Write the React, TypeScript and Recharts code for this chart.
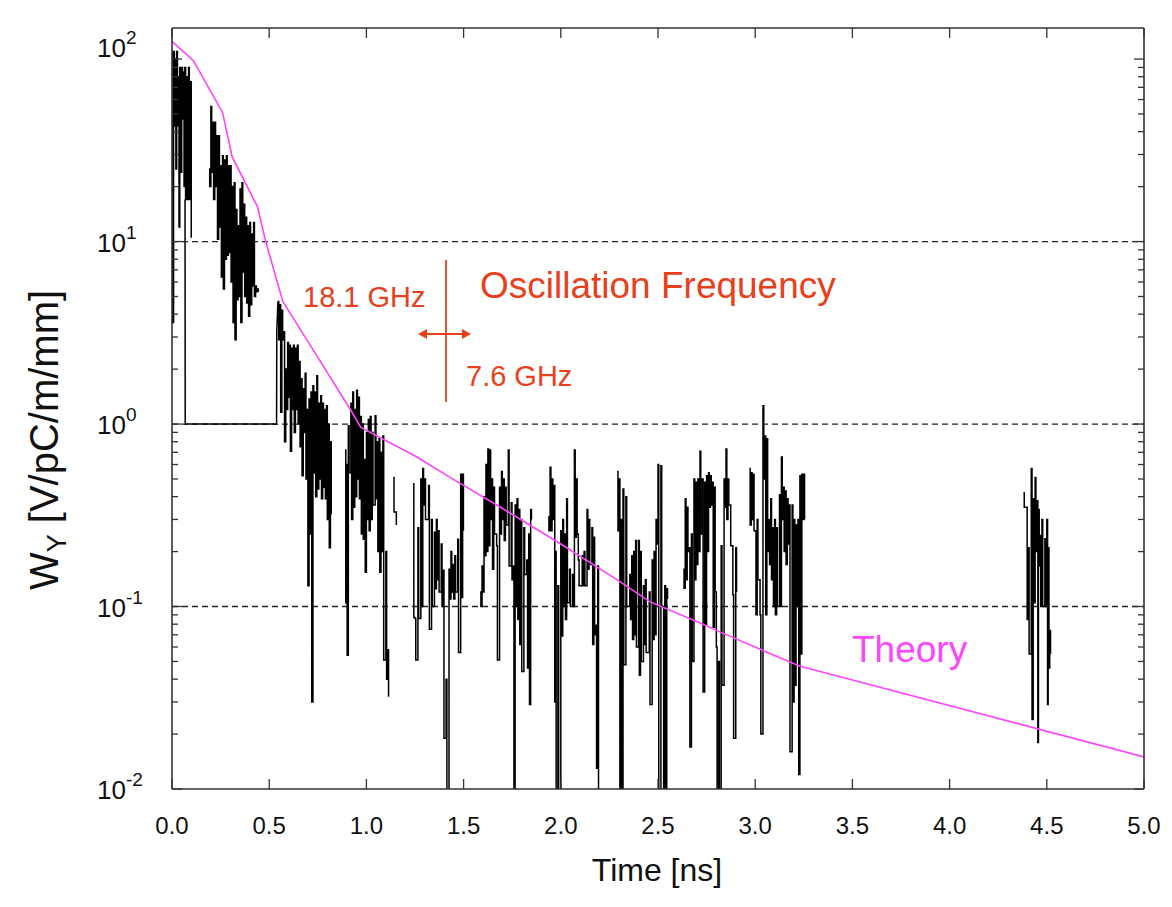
import React from 'react';
import { LineChart, Line, XAxis, YAxis, ReferenceLine, Customized } from 'recharts';

const FONT = '"Liberation Sans", Arial, Helvetica, sans-serif';
const RED = '#e8401c';
const MAGENTA = '#ff44ff';
const FRAME = '#333333';

// ---- axis ticks ----
const xTicks = [0, 0.5, 1, 1.5, 2, 2.5, 3, 3.5, 4, 4.5, 5];
const xTickLabels = ['0.0', '0.5', '1.0', '1.5', '2.0', '2.5', '3.0', '3.5', '4.0', '4.5', '5.0'];
const yMajor = [0.01, 0.1, 1, 10, 100];
const yExp = ['-2', '-1', '0', '1', '2'];
const yMinor = [
  0.02, 0.03, 0.04, 0.05, 0.06, 0.07, 0.08, 0.09,
  0.2, 0.3, 0.4, 0.5, 0.6, 0.7, 0.8, 0.9,
  2, 3, 4, 5, 6, 7, 8, 9,
  20, 30, 40, 50, 60, 70, 80, 90,
];
const yAllTicks = [...yMajor, ...yMinor].sort((a, b) => a - b);
const gridLevels = [0.1, 1, 10];

// ---- theory curve [t (ns), W] ----
const theory: [number, number][] = [
  [0, 125], [0.11, 98], [0.26, 51], [0.31, 29], [0.44, 15.5], [0.48, 10.2],
  [0.57, 4.7], [0.66, 3.3], [0.92, 1.19], [0.97, 0.96], [1.26, 0.66], [1.43, 0.51],
  [1.69, 0.35], [2.0, 0.22], [2.29, 0.14], [2.46, 0.106], [2.72, 0.081], [2.8, 0.074],
  [3.23, 0.047], [3.3, 0.045], [5.0, 0.015],
];

// ---- measured wake, columns [t, high, low] (null = no trace) ----
const seg1: [number, number | null, number | null][] = [
  [0.0, 110, 3.6], [0.008, 110, 43], [0.016, 100, 25], [0.024, 110, 43], [0.032, 80, 12],
  [0.04, 90, 24], [0.05, 90, 47], [0.058, 85, 20], [0.066, 90, 17], [0.075, 80, 17],
  [0.085, 90, 17], [0.095, 75, 10.5],
];

const floorTrace: [number, number][] = [
  [0.067, 17], [0.068, 1.0], [0.538, 1.0], [0.539, 3.2], [0.545, 4.7],
];

const seg2: [number, number | null, number | null][] = [
  [0.19, 25, 20], [0.2, 55, 24], [0.21, 45, 17], [0.22, 45, 20], [0.23, 38, 10.3],
  [0.24, 38, 12], [0.25, 26, 6.4], [0.26, 29.5, 5.5], [0.27, 28, 8], [0.28, 29.5, 8.4],
  [0.29, 26, 8.7], [0.3, 26, 6], [0.31, 20, 3.6], [0.32, 21, 2.9], [0.33, 15, 4.8],
  [0.34, 12.2, 5], [0.35, 19.4, 3.6], [0.36, 21, 6.8], [0.37, 16, 5], [0.38, 13.6, 4.6],
  [0.39, 12.2, 3.9], [0.4, 12.7, 4.5], [0.41, 11, 5.7], [0.42, 12.7, 5], [0.43, 5.7, 5.3],
  [0.44, 5.5, 5.3],
];

const seg3: [number, number | null, number | null][] = [
  [0.545, 4.7, 2.9], [0.555, 4.5, 1.16], [0.565, 4.2, 2.9], [0.575, 3.2, 0.8], [0.585, 2.0, 1.2],
  [0.595, 2.8, 1.4], [0.605, 2.7, 0.71], [0.615, 2.6, 1.2], [0.625, 2.7, 0.9], [0.635, 2.6, 1.2],
  [0.645, 2.7, 1.0], [0.655, 2.2, 0.75], [0.665, 1.77, 0.52], [0.675, 1.56, 0.9], [0.685, 1.9, 0.5],
  [0.695, 1.2, 0.13], [0.705, 1.37, 0.25], [0.715, 1.5, 0.03], [0.725, 1.62, 0.54], [0.735, 1.5, 0.4],
  [0.745, 1.84, 0.44], [0.755, 1.3, 0.5], [0.765, 1.43, 0.39], [0.775, 1.3, 0.45], [0.785, 1.2, 0.39],
  [0.795, 1.26, 0.3], [0.805, 1.0, 0.21], [0.815, 0.8, 0.32], [0.825, null, null],
  [0.89, 0.72, 0.105], [0.897, 0.6, 0.054], [0.907, 0.98, 0.54], [0.92, 1.3, 0.3], [0.93, 1.5, 0.35],
  [0.94, 1.2, 0.4], [0.95, 1.53, 0.5], [0.96, 1.4, 0.39], [0.97, 1.1, 0.25], [0.98, 1.0, 0.234],
  [0.99, 0.64, 0.154], [1.0, 0.9, 0.3], [1.01, 1.06, 0.26], [1.02, 1.1, 0.3], [1.03, 0.9, 0.36],
  [1.045, 1.11, 0.39], [1.055, 0.8, 0.2], [1.065, 0.83, 0.154], [1.075, 0.7, 0.2], [1.085, 0.86, 0.051],
  [1.1, 0.2, 0.04], [1.11, 0.058, 0.032], [1.125, null, null],
  [1.138, 0.51, 0.33], [1.15, 0.33, 0.28], [1.16, null, null],
  [1.24, 0.47, 0.087], [1.25, 0.086, 0.051], [1.265, 0.27, 0.086], [1.28, 0.5, 0.1], [1.29, 0.57, 0.36],
  [1.3, 0.5, 0.3], [1.32, 0.46, 0.075], [1.335, 0.3, 0.1], [1.35, 0.255, 0.125], [1.36, 0.3, 0.14],
  [1.37, 0.26, 0.12], [1.385, 0.22, 0.1], [1.395, 0.158, 0.019], [1.41, 0.04, 0.005], [1.425, 0.16, 0.11],
  [1.435, 0.2, 0.12], [1.445, 0.17, 0.11], [1.455, 0.19, 0.12], [1.47, 0.234, 0.056], [1.485, 0.53, 0.112],
  [1.495, 0.53, 0.26], [1.5, null, null],
  [1.585, 0.12, 0.1], [1.595, 0.167, 0.12], [1.605, 0.4, 0.19], [1.615, 0.6, 0.2], [1.625, 0.73, 0.215],
  [1.635, 0.72, 0.3], [1.645, 0.5, 0.16], [1.655, 0.45, 0.25], [1.67, 0.215, 0.051], [1.685, 0.45, 0.25],
  [1.695, 0.55, 0.3], [1.705, 0.5, 0.23], [1.715, 0.45, 0.28], [1.73, 0.72, 0.167], [1.745, 0.37, 0.14],
  [1.755, 0.167, 0.005], [1.765, 0.36, 0.1], [1.775, 0.39, 0.085], [1.785, 0.34, 0.062], [1.795, 0.3, 0.044],
  [1.81, 0.27, 0.15], [1.825, 0.18, 0.046], [1.835, 0.25, 0.029], [1.845, 0.34, 0.3], [1.85, null, null],
  [1.935, 0.31, 0.26], [1.945, 0.58, 0.26], [1.955, 0.5, 0.3], [1.965, 0.46, 0.03], [1.972, 0.2, 0.005],
  [1.985, 0.13, 0.005], [2.0, 0.26, 0.069], [2.01, 0.3, 0.1], [2.02, 0.25, 0.085], [2.03, 0.39, 0.105],
  [2.045, 0.16, 0.1], [2.06, 0.15, 0.1], [2.07, 0.72, 0.24], [2.08, 0.5, 0.25], [2.09, 0.18, 0.13],
  [2.11, 0.19, 0.13], [2.12, 0.2, 0.13], [2.135, 0.34, 0.16], [2.145, 0.3, 0.17], [2.16, 0.27, 0.062],
  [2.17, 0.24, 0.07], [2.18, 0.079, 0.013], [2.19, 0.167, 0.005], [2.2, null, null],
  [2.29, 0.55, 0.26], [2.3, 0.5, 0.005], [2.31, 0.3, 0.005], [2.32, 0.44, 0.048], [2.335, 0.4, 0.1],
  [2.355, 0.15, 0.085], [2.365, 0.19, 0.066], [2.375, 0.2, 0.07], [2.385, 0.23, 0.06], [2.4, 0.23, 0.042],
  [2.41, 0.2, 0.05], [2.425, 0.13, 0.062], [2.435, 0.14, 0.056], [2.455, 0.12, 0.029], [2.47, 0.18, 0.066],
  [2.48, 0.2, 0.07], [2.49, 0.3, 0.22], [2.5, 0.6, 0.005], [2.515, 0.59, 0.1], [2.525, 0.1, 0.005],
  [2.535, 0.13, 0.005], [2.545, 0.125, 0.11], [2.555, null, null],
  [2.63, 0.16, 0.126], [2.64, 0.39, 0.14], [2.65, 0.35, 0.2], [2.66, 0.21, 0.017], [2.672, 0.25, 0.05],
  [2.685, 0.5, 0.14], [2.695, 0.48, 0.17], [2.705, 0.5, 0.2], [2.716, 0.71, 0.25], [2.728, 0.5, 0.034],
  [2.74, 0.48, 0.08], [2.75, 0.52, 0.2], [2.76, 0.54, 0.35], [2.77, 0.52, 0.36], [2.78, 0.48, 0.077],
  [2.79, 0.45, 0.12], [2.8, 0.06, 0.005], [2.812, 0.05, 0.005], [2.825, 0.215, 0.037], [2.84, 0.5, 0.35],
  [2.85, 0.73, 0.3], [2.86, 0.5, 0.36], [2.87, 0.36, 0.215], [2.885, 0.116, 0.019], [2.9, 0.21, 0.12],
  [2.91, null, null],
  [2.97, 0.57, 0.28], [2.98, 0.54, 0.3], [2.99, 0.53, 0.26], [3.0, 0.26, 0.09], [3.01, 0.3, 0.14],
  [3.025, 0.09, 0.02], [3.04, 1.26, 0.5], [3.05, 0.86, 0.09], [3.06, 0.83, 0.2], [3.07, 0.3, 0.17],
  [3.08, 0.39, 0.14], [3.09, 0.27, 0.1], [3.1, 0.3, 0.09], [3.11, 0.27, 0.1], [3.125, 0.41, 0.1],
  [3.135, 0.66, 0.3], [3.145, 0.45, 0.2], [3.155, 0.43, 0.17], [3.165, 0.39, 0.22], [3.175, 0.36, 0.016],
  [3.19, 0.36, 0.03], [3.2, 0.3, 0.037], [3.21, 0.28, 0.1], [3.22, 0.3, 0.012], [3.23, 0.52, 0.055],
  [3.24, 0.53, 0.3], [3.25, 0.53, 0.3],
];

const seg4: [number, number | null, number | null][] = [
  [4.38, 0.42, 0.35], [4.395, 0.35, 0.085], [4.405, 0.21, 0.055], [4.42, 0.57, 0.024], [4.43, 0.39, 0.105],
  [4.44, 0.51, 0.2], [4.45, 0.38, 0.018], [4.457, 0.34, 0.167], [4.465, 0.245, 0.1], [4.475, 0.3, 0.1],
  [4.49, 0.235, 0.1], [4.5, 0.3, 0.029], [4.507, 0.21, 0.046], [4.515, 0.074, 0.055],
];

type Pt = { t: number; v: number | null };
const fromColumns = (cols: [number, number | null, number | null][]): Pt[] =>
  cols.flatMap(([t, hi, lo]) =>
    hi == null ? [{ t, v: null }] : [{ t, v: hi }, { t: t + 0.004, v: lo }]
  );
const fromPairs = (p: [number, number][]): Pt[] => p.map(([t, v]) => ({ t, v }));

const seriesList: { key: string; data: Pt[]; color: string; width: number; curve: any }[] = [
  { key: 'floor', data: fromPairs(floorTrace), color: '#000', width: 1.5, curve: 'linear' },
  { key: 'seg1', data: fromColumns(seg1), color: '#000', width: 1.5, curve: 'stepAfter' },
  { key: 'seg2', data: fromColumns(seg2), color: '#000', width: 1.5, curve: 'stepAfter' },
  { key: 'seg3', data: fromColumns(seg3), color: '#000', width: 1.5, curve: 'stepAfter' },
  { key: 'seg4', data: fromColumns(seg4), color: '#000', width: 1.5, curve: 'stepAfter' },
  { key: 'theory', data: fromPairs(theory), color: MAGENTA, width: 1.6, curve: 'linear' },
];

// ---- ticks ----
const BottomTick = (props: any) => {
  const { x, y, payload } = props;
  const i = xTicks.indexOf(payload.value);
  return (
    <g>
      <line x1={x} y1={y} x2={x} y2={y - 10} stroke={FRAME} strokeWidth={1.3} />
      <text x={x} y={y + 45} textAnchor="middle" fontSize={24} fontFamily={FONT} fill="#111">
        {xTickLabels[i]}
      </text>
    </g>
  );
};
const TopTick = (props: any) => {
  const { x, y } = props;
  return <line x1={x} y1={y} x2={x} y2={y + 10} stroke={FRAME} strokeWidth={1.3} />;
};
const LeftTick = (props: any) => {
  const { x, y, payload } = props;
  const i = yMajor.indexOf(payload.value);
  const major = i >= 0;
  const dy = payload.value === 100 ? -12 : 0;
  return (
    <g>
      <line x1={x} y1={y} x2={x + (major ? 10 : 6)} y2={y} stroke={FRAME} strokeWidth={1.3} />
      {major && (
        <text x={x - 75} y={y + 10 + dy} fontSize={26} fontFamily={FONT} fill="#111">
          10
          <tspan dy={-13} fontSize={19}>{yExp[i]}</tspan>
        </text>
      )}
    </g>
  );
};
const RightTick = (props: any) => {
  const { x, y, payload } = props;
  const major = yMajor.indexOf(payload.value) >= 0;
  return <line x1={x} y1={y} x2={x - (major ? 10 : 6)} y2={y} stroke={FRAME} strokeWidth={1.3} />;
};

const Annotations = () => (
  <g fontFamily={FONT}>
    <text x={480} y={298} fontSize={37} fill={RED}>Oscillation Frequency</text>
    <text x={303} y={307} fontSize={29} fill={RED}>18.1 GHz</text>
    <text x={466} y={386} fontSize={29} fill={RED}>7.6 GHz</text>
    <line x1={446} y1={260} x2={446} y2={402} stroke={RED} strokeWidth={1.8} />
    <line x1={420} y1={334} x2={469} y2={334} stroke={RED} strokeWidth={1.8} />
    <path d="M418,334 L427,329 L427,339 Z" fill={RED} />
    <path d="M471,334 L462,329 L462,339 Z" fill={RED} />
    <text x={852} y={662} fontSize={37} fill={MAGENTA}>Theory</text>
    <text x={657} y={881} textAnchor="middle" fontSize={32} fill="#111">Time [ns]</text>
    <text transform="translate(58,440) rotate(-90)" textAnchor="middle" fontSize={40} fill="#111">
      W<tspan fontSize={27} dy={8}>Y</tspan>
      <tspan dy={-8}> [V/pC/m/mm]</tspan>
    </text>
  </g>
);

export default function App() {
  return (
    <div style={{ position: 'absolute', left: 0, top: 0, width: 1172, height: 907, background: '#fff' }}>
      <LineChart width={1172} height={907} margin={{ top: 27, right: 27, bottom: 117, left: 171 }}>
        <XAxis
          xAxisId="b"
          dataKey="t"
          type="number"
          domain={[0, 5]}
          ticks={xTicks}
          interval={0}
          height={1}
          tickSize={0}
          tickMargin={0}
          tickLine={false}
          allowDataOverflow
          axisLine={{ stroke: FRAME, strokeWidth: 1.6 }}
          tick={<BottomTick />}
        />
        <XAxis
          xAxisId="top"
          orientation="top"
          dataKey="t"
          type="number"
          domain={[0, 5]}
          ticks={xTicks}
          interval={0}
          height={1}
          tickSize={0}
          tickMargin={0}
          tickLine={false}
          allowDataOverflow
          axisLine={{ stroke: FRAME, strokeWidth: 1.6 }}
          tick={<TopTick />}
        />
        <YAxis
          yAxisId="l"
          type="number"
          scale="log"
          domain={[0.01, 148]}
          ticks={yAllTicks}
          interval={0}
          width={1}
          tickSize={0}
          tickMargin={0}
          tickLine={false}
          allowDataOverflow
          axisLine={{ stroke: FRAME, strokeWidth: 1.6 }}
          tick={<LeftTick />}
        />
        <YAxis
          yAxisId="r"
          orientation="right"
          type="number"
          scale="log"
          domain={[0.01, 148]}
          ticks={yAllTicks}
          interval={0}
          width={1}
          tickSize={0}
          tickMargin={0}
          tickLine={false}
          allowDataOverflow
          axisLine={{ stroke: FRAME, strokeWidth: 1.6 }}
          tick={<RightTick />}
        />
        {gridLevels.map((g) => (
          <ReferenceLine
            key={g}
            xAxisId="b"
            yAxisId="l"
            y={g}
            stroke="#222"
            strokeWidth={1.3}
            strokeDasharray="6 4"
          />
        ))}
        {seriesList.map((s) => (
          <Line
            key={s.key}
            xAxisId="b"
            yAxisId="l"
            data={s.data}
            dataKey="v"
            type={s.curve}
            stroke={s.color}
            strokeWidth={s.width}
            dot={false}
            activeDot={false}
            connectNulls={false}
            isAnimationActive={false}
          />
        ))}
        <Customized component={<Annotations />} />
      </LineChart>
    </div>
  );
}
